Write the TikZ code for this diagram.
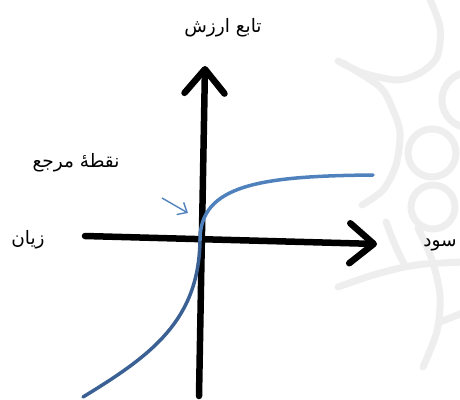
\documentclass[tikz,border=0pt]{standalone}
\usepackage{fontspec}
\newfontfamily\arabicfont[Script=Arabic]{DejaVu Sans}
\TeXXeTstate=1
\usetikzlibrary{arrows.meta,positioning}
\definecolor{curveup}{HTML}{4F81BD}
\definecolor{curvedown}{HTML}{3B6194}

\begin{document}
\begin{tikzpicture}[x=1pt,y=1pt,>=Stealth,
  axis/.style={line width=6.5pt, line cap=round, -{Straight Barb[length=24pt,width=40pt,round]}},
  lbl/.style={font=\arabicfont\fontsize{18.5}{20}\selectfont, inner sep=1pt},
  valcurve/.style={line width=3.5pt, line cap=round},
  deco/.style={gray!13, line width=7pt, line cap=round}]
\useasboundingbox (0,0) rectangle (460,399);
% watermark (image coordinates, y downwards)
\begin{scope}[shift={(0,399)}, yscale=-1]
\clip (0,0) rectangle (460,399);
\draw[deco] plot[smooth] coordinates {(428,-5) (440,27) (437,57) (420,73) (397,80) (363,73) (338,61)};
\draw[deco] plot[smooth] coordinates {(343,63) (380,87) (393,110) (400,133) (396,165) (383,190) (362,205)};
\draw[deco] (432,153) circle (24);
\draw[deco] (433,207) circle (22);
\draw[deco] (470,100) circle (28);
\draw[deco] plot[smooth] coordinates {(338,287) (370,276) (400,268) (425,264) (465,262)};
\draw[deco] plot[smooth] coordinates {(418,228) (432,260) (440,295) (437,331) (423,367)};
\draw[deco] plot[smooth] coordinates {(440,322) (465,312)};
\draw[deco] plot[smooth] coordinates {(386,222) (395,245) (405,266)};
\end{scope}
% axes
\coordinate (xl) at (85,163); \coordinate (xr) at (377,155);
\coordinate (yb) at (199,3); \coordinate (yt) at (205,333);
\coordinate (o) at (200,159);
\draw[axis] (xl) -- (xr);
\draw[axis] (yb) -- (yt);
% value function
\coordinate (lo) at (83,2); \coordinate (hi) at (373,224);
\draw[valcurve, curvedown] (lo) .. controls (152,44) and (199,79) .. (o);
\draw[valcurve, curveup] (o) .. controls (200,214) and (260,223) .. (hi);
% labels
\node[lbl] (value) at (223,371) {\beginR تابع ارزش\endR};
\node[lbl] (ref) at (76,236) {\beginR نقطهٔ مرجع\endR};
\node[lbl] (loss) at (28,159) {\beginR زیان\endR};
\node[lbl] (gain) at (440,154) {\beginR سود\endR};
\coordinate (ps) at (162,201); \coordinate (pe) at (188,186);
\draw[curveup, line width=1.4pt, -{Straight Barb[length=8pt,width=14pt]}] (ps) -- (pe);
\end{tikzpicture}
\end{document}
